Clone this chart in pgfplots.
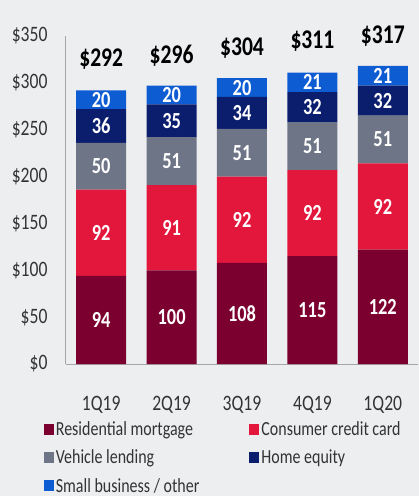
\documentclass[border=0pt]{standalone}
\usepackage{fontspec}
\setmainfont{Carlito}[FakeStretch=0.8]
\usepackage{pgfplots}
\pgfplotsset{compat=1.18}
\definecolor{bg}{HTML}{EDEEF0}
\definecolor{mort}{HTML}{7B0030}
\definecolor{ccard}{HTML}{E3173B}
\definecolor{veh}{HTML}{6E7587}
\definecolor{heq}{HTML}{0B1E6E}
\definecolor{sbiz}{HTML}{0E5CD2}
\definecolor{axisgray}{HTML}{A6A6A6}
\definecolor{txt}{HTML}{333333}
\pgfplotsset{
  frame/.style={at={(66pt,-364pt)}, anchor=south west,
    scale only axis, width=352pt, height=328pt,
    xmin=-0.5, xmax=4.5, ymin=0, ymax=350, bar width=50pt,
    /pgf/number format/assume math mode=true},
}
\begin{document}
\begin{tikzpicture}
\fill[bg] (0,0) rectangle (419pt,-496pt);
\begin{axis}[frame,
  ybar stacked,
  axis x line=bottom, axis y line=left,
  axis line style={axisgray, line width=1pt, -},
  xtick={0,...,4}, xticklabels={1Q19,2Q19,3Q19,4Q19,1Q20},
  ytick={0,50,...,350},
  major tick length=0pt,
  yticklabel={\$\pgfmathprintnumber{\tick}},
  ticklabel style={font=\fontsize{22}{24}\selectfont, text=txt},
  yticklabel shift=15pt,
  xticklabel shift=29pt,
  legend columns=2,
  legend style={at={(-0.072,-0.162)}, anchor=north west, draw=none, fill=none,
    font=\fontsize{20}{22}\selectfont, text=txt, /tikz/every even column/.append style={column sep=48pt}, row sep=9pt},
  legend cell align=left,
  legend image code/.code={\fill[#1] (0pt,-5.5pt) rectangle (10pt,5.5pt);},
  segment/.style={nodes near coords,
    nodes near coords style={font=\bfseries\fontsize{23}{24}\selectfont, text=white, anchor=center}},
]
\addplot[fill=mort, draw=none, segment] coordinates {(0,94) (1,100) (2,108) (3,115) (4,122)};
\addlegendentry{Residential mortgage}
\addplot[fill=ccard, draw=none, segment] coordinates {(0,92) (1,91) (2,92) (3,92) (4,92)};
\addlegendentry{Consumer credit card}
\addplot[fill=veh, draw=none, segment] coordinates {(0,50) (1,51) (2,51) (3,51) (4,51)};
\addlegendentry{Vehicle lending}
\addplot[fill=heq, draw=none, segment] coordinates {(0,36) (1,35) (2,34) (3,32) (4,32)};
\addlegendentry{Home equity}
\addplot[fill=sbiz, draw=none, segment] coordinates {(0,20) (1,20) (2,20) (3,21) (4,21)};
\addlegendentry{Small business / other}
\end{axis}
\begin{axis}[frame, ybar, hide axis]
\addplot[draw=none, fill=none,
  nodes near coords={\$\pgfmathprintnumber{\pgfplotspointmeta}},
  nodes near coords style={font=\bfseries\fontsize{27}{28}\selectfont, text=black, anchor=center, yshift=31pt}]
  coordinates {(0,292) (1,296) (2,304) (3,311) (4,317)};
\end{axis}
\pgfresetboundingbox
\path (0,0) rectangle (419pt,-496pt);
\end{tikzpicture}
\end{document}
